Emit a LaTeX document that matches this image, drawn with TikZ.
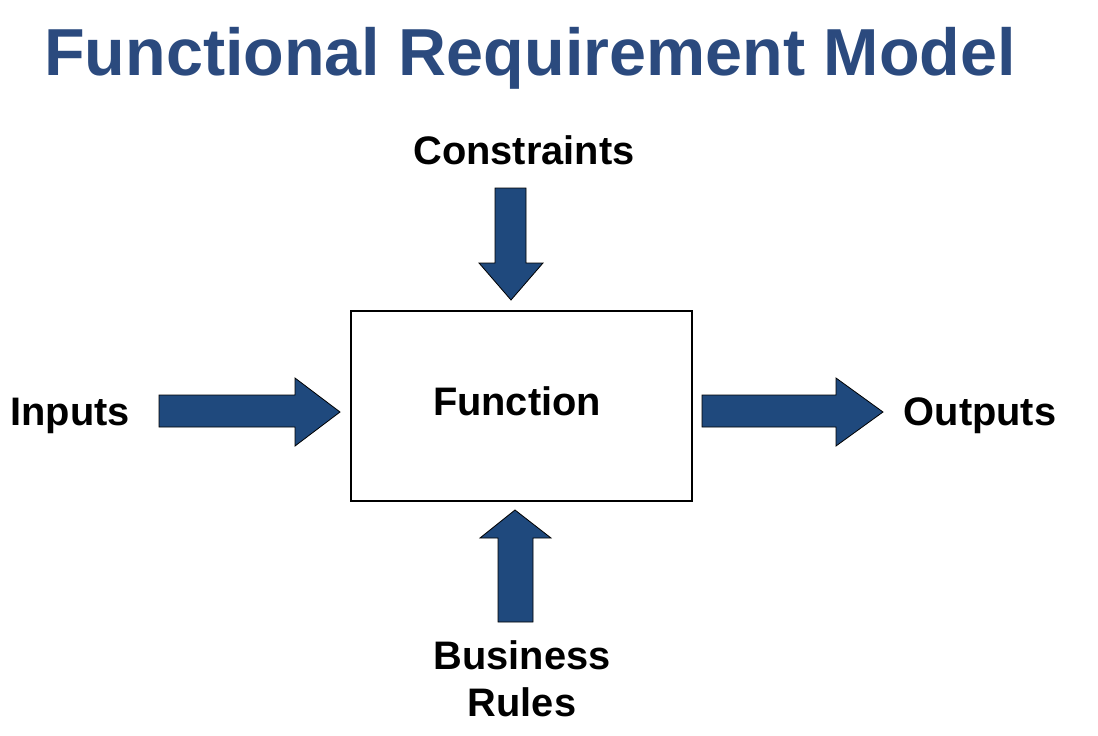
\documentclass[tikz,border=0pt]{standalone}
\usepackage{fontspec}
\setmainfont{Liberation Sans}
\definecolor{arrowblue}{HTML}{1F497D}
\definecolor{titleblue}{HTML}{2B4A7E}
\tikzset{
  blockarrow/.style={fill=arrowblue, draw=black, line width=0.8pt, line join=miter},
  lbl/.style={font=\fontsize{39.8}{47}\selectfont\bfseries, inner sep=0pt},
  funcbox/.style={draw=black, line width=2pt, fill=white}
}
\begin{document}
\begin{tikzpicture}[x=1pt,y=-1pt]
\useasboundingbox (0,0) rectangle (1098,736);
% title
\node[anchor=base west, inner sep=0pt, text=titleblue, font=\fontsize{66.5}{70}\selectfont\bfseries] (title) at (44,75) {Functional Requirement Model};
% function box
\node[funcbox, minimum width=341pt, minimum height=190pt, inner sep=0pt, anchor=north west] (box) at (350,310) {};
\node[lbl, anchor=base] (func) at (517,415) {Function};
% labels
\node[lbl, anchor=base] (constraints) at (524,164) {Constraints};
\node[lbl, anchor=base] (inputs) at (70,425) {Inputs};
\node[lbl, anchor=base] (outputs) at (980,425) {Outputs};
\node[lbl, anchor=north, align=center] (rules) at (522,640) {Business\\Rules};
% arrows
\draw[blockarrow] (159,395) -- (295,395) -- (295,378) -- (340,412) -- (295,446) -- (295,427) -- (159,427) -- cycle;
\draw[blockarrow] (702,395) -- (836,395) -- (836,378) -- (883,412) -- (836,446) -- (836,427) -- (702,427) -- cycle;
\draw[blockarrow] (495,188) -- (526,188) -- (526,263) -- (543,263) -- (511,300) -- (479,263) -- (495,263) -- cycle;
\draw[blockarrow] (498,622) -- (533,622) -- (533,538) -- (551,538) -- (515,510) -- (480,538) -- (498,538) -- cycle;
\end{tikzpicture}
\end{document}
